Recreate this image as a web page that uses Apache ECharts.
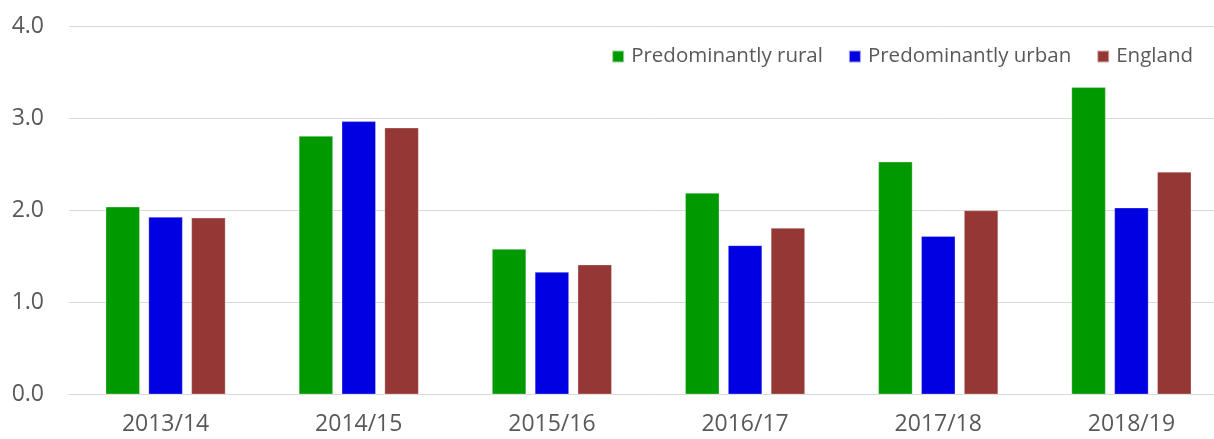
<!DOCTYPE html>
<html>
<head>
<meta charset="utf-8">
<script src="https://cdn.jsdelivr.net/npm/echarts@6/dist/echarts.min.js"></script>
<style>
html,body{margin:0;padding:0;background:#fff;overflow:hidden;width:1214px;height:439px;}
#chart{width:1228px;height:439px;}
</style>
</head>
<body>
<div id="chart"></div>
<script>
const categories = ['2013/14', '2014/15', '2015/16', '2016/17', '2017/18', '2018/19'];
const rural = [2.04, 2.81, 1.58, 2.19, 2.53, 3.34];
const urban = [1.93, 2.97, 1.33, 1.62, 1.72, 2.03];
const england = [1.92, 2.90, 1.41, 1.81, 2.00, 2.42];
const seriesNames = ['Predominantly rural', 'Predominantly urban', 'England'];
const yTicks = [0, 1, 2, 3, 4];

const colors = ['#009900', '#0000e0', '#953735'];
const font = '"Open Sans", sans-serif';
const chart = echarts.init(document.getElementById('chart'), null, {renderer: 'canvas'});
const dataSets = [rural, urban, england];
chart.setOption({
  animation: false,
  backgroundColor: '#fff',
  color: colors,
  textStyle: {fontFamily: font},
  legend: {
    right: 30,
    top: 41,
    itemWidth: 12,
    itemHeight: 12,
    itemGap: 25,
    icon: 'rect',
    textStyle: {color: '#595959', fontSize: 20.5, fontFamily: font, padding: [0, 0, 0, 2]},
    data: seriesNames
  },
  grid: {left: 69, top: 26.7, right: 0, height: 367.6, containLabel: false},
  xAxis: {
    type: 'category',
    data: categories,
    axisLine: {show: true, lineStyle: {color: '#d9d9d9', width: 1}},
    axisTick: {show: false},
    axisLabel: {color: '#595959', fontSize: 23, fontFamily: font, margin: 19}
  },
  yAxis: {
    type: 'value',
    min: yTicks[0],
    max: yTicks[yTicks.length - 1],
    interval: 1,
    axisLine: {show: false},
    axisTick: {show: false},
    splitLine: {lineStyle: {color: '#d9d9d9', width: 1}},
    axisLabel: {color: '#595959', fontSize: 23, fontFamily: font, margin: 25,
      formatter: v => v.toFixed(1)}
  },
  series: seriesNames.map((name, i) => ({
    name: name,
    type: 'bar',
    data: dataSets[i],
    barWidth: 34,
    barGap: '26%',
    itemStyle: {color: colors[i], borderColor: 'rgba(255,255,255,0.6)', borderWidth: 0.5}
  }))
});
</script>
</body>
</html>
